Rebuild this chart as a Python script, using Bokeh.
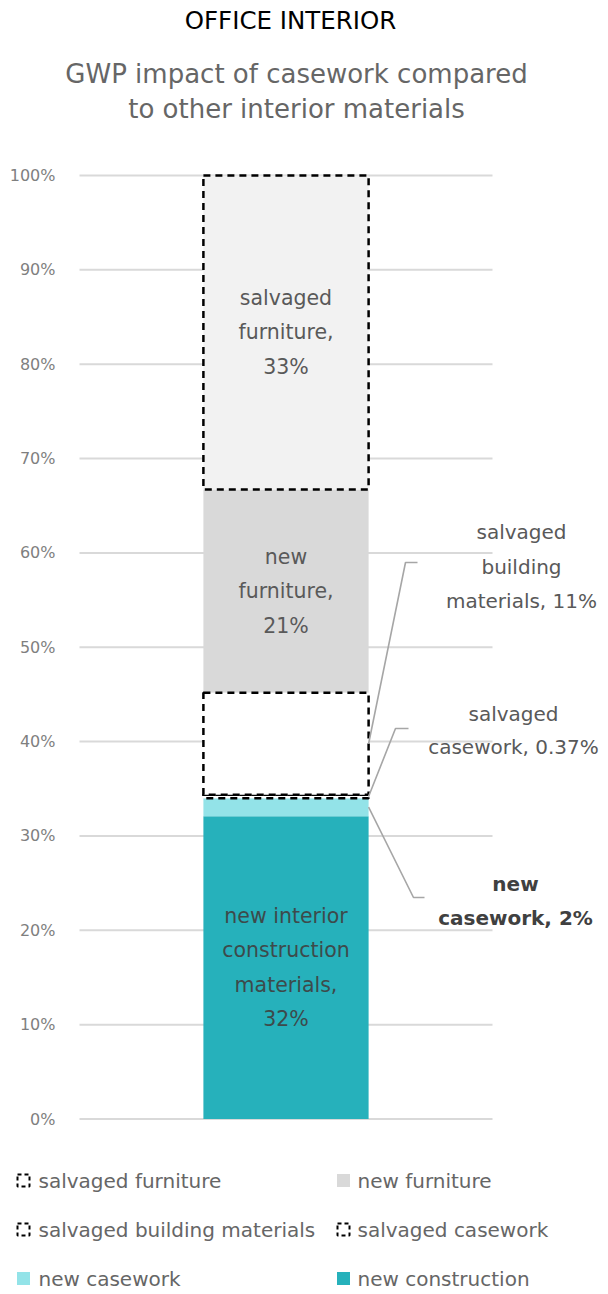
import numpy as np
from bokeh.plotting import figure
from bokeh.models import Range1d, ColumnDataSource
from bokeh.core.properties import value
from bokeh.embed import file_html
from bokeh.resources import INLINE

# ---------------- data ----------------
title = "OFFICE INTERIOR"
subtitle_lines = ["GWP impact of casework compared", "to other interior materials"]

categories = ["new construction", "new casework", "salvaged casework",
              "salvaged building materials", "new furniture", "salvaged furniture"]
values = [32.1, 1.9, 0.37, 10.8, 21.55, 33.28]          # % share, stacked bottom -> top
fills = ["#26b1bb", "#93e3e8", "#ffffff", "#ffffff", "#d9d9d9", "#f2f2f2"]
dashed = [False, False, True, True, False, True]

y_ticks = [0, 10, 20, 30, 40, 50, 60, 70, 80, 90, 100]
y_tick_labels = ["0%", "10%", "20%", "30%", "40%", "50%", "60%", "70%", "80%", "90%", "100%"]

# labels drawn inside the bar (line by line)
inbar_labels = {
    "salvaged furniture": ["salvaged", "furniture,", "33%"],
    "new furniture": ["new", "furniture,", "21%"],
    "new construction": ["new interior", "construction", "materials,", "32%"],
}
inbar_colors = {"salvaged furniture": "#595959", "new furniture": "#595959",
                "new construction": "#3d4a4b"}

# call-out labels to the right of the bar
callout_labels = {
    "salvaged building materials": ["salvaged", "building", "materials, 11%"],
    "salvaged casework": ["salvaged", "casework, 0.37%"],
    "new casework": ["new", "casework, 2%"],
}

legend_items = ["salvaged furniture", "new furniture",
                "salvaged building materials", "salvaged casework",
                "new casework", "new construction"]

# ---------------- layout / style (pixel positions of the page) ----------------
W, H = 608, 1290
FONT = "DejaVu Sans"
X0_PX, X_UNIT_PX = 79.0, 413.0        # where the grid starts, px per x unit
Y0_PX, Y_UNIT_PX = 1118.5, 9.435      # baseline (0%) and px per percent


def px2x(px):
    return (px - X0_PX) / X_UNIT_PX


def px2y(py):
    return (Y0_PX - py) / Y_UNIT_PX


BAR_X, BAR_W = 0.5, 0.4
LINE_STEP = 34.5 / Y_UNIT_PX          # in-bar line spacing

callout_layout = {
    "salvaged building materials": dict(elbow=(405, 562), end=417,
                                        tx=521, ty=[531, 566, 600], bold=False),
    "salvaged casework": dict(elbow=(395, 728), end=408,
                              tx=513, ty=[713, 746], bold=False),
    "new casework": dict(elbow=(413, 897), end=424,
                         tx=515, ty=[883, 917], bold=True),
}

p = figure(width=W, height=H,
           x_range=Range1d(px2x(0), px2x(W)),
           y_range=Range1d(px2y(H), px2y(0)),
           output_backend="svg", toolbar_location=None, tools="",
           x_axis_location=None, y_axis_location=None,
           min_border=0, outline_line_color=None)
p.grid.visible = False

# ---- title & subtitle ----
p.text(x=[px2x(290)], y=[px2y(20)], text=[title], text_align="center",
       text_baseline="middle", text_font=value(FONT), text_font_size="24.5px",
       text_color="#000000")
p.text(x=[px2x(296), px2x(296)], y=[px2y(73), px2y(108)], text=subtitle_lines,
       text_align="center", text_baseline="middle", text_font=value(FONT),
       text_font_size="26px", text_color="#666666")

# ---- value axis: grid lines + tick labels ----
p.segment(x0=[0] * len(y_ticks), x1=[1] * len(y_ticks), y0=y_ticks, y1=y_ticks,
          line_color="#d9d9d9", line_width=2)
p.text(x=[px2x(55)] * len(y_ticks), y=y_ticks, text=y_tick_labels, text_align="right",
       text_baseline="middle", text_font=value(FONT), text_font_size="16px",
       text_color="#7f7f7f")

# ---- stacked bar ----
vals = np.array(values)
tops = np.cumsum(vals)
bottoms = tops - vals

solid = [i for i in range(len(categories)) if not dashed[i]]
dash = [i for i in range(len(categories)) if dashed[i]]
src_solid = ColumnDataSource(dict(bottom=bottoms[solid], top=tops[solid],
                                  fill=[fills[i] for i in solid]))
src_dash = ColumnDataSource(dict(bottom=bottoms[dash], top=tops[dash],
                                 fill=[fills[i] for i in dash]))
p.vbar(x=BAR_X, width=BAR_W, bottom="bottom", top="top", fill_color="fill",
       line_color=None, source=src_solid)
p.vbar(x=BAR_X, width=BAR_W, bottom="bottom", top="top", fill_color="fill",
       line_color="#000000", line_width=2.5, line_dash="7 5", source=src_dash)

mids = {c: (b + t) / 2 for c, b, t in zip(categories, bottoms, tops)}

# in-bar labels, centred on the segment midpoint
for cat, lines in inbar_labels.items():
    n = len(lines)
    ys = [mids[cat] + (n - 1) / 2 * LINE_STEP - k * LINE_STEP for k in range(n)]
    p.text(x=[BAR_X] * n, y=ys, text=lines, text_align="center", text_baseline="middle",
           text_font=value(FONT), text_font_size="20.5px", text_color=inbar_colors[cat])

# call-outs with leader lines
for cat, lines in callout_labels.items():
    lay = callout_layout[cat]
    ex, ey = lay["elbow"]
    p.line(x=[BAR_X + BAR_W / 2, px2x(ex), px2x(lay["end"])],
           y=[mids[cat], px2y(ey), px2y(ey)],
           line_color="#a6a6a6", line_width=1.6)
    p.text(x=[px2x(lay["tx"])] * len(lines), y=[px2y(v) for v in lay["ty"]], text=lines,
           text_align="center", text_baseline="middle", text_font=value(FONT),
           text_font_size="20px",
           text_font_style="bold" if lay["bold"] else "normal",
           text_color="#404040" if lay["bold"] else "#595959")

# ---- legend (3 rows x 2 columns) ----
col_sw_px = [23, 343]
col_tx_px = [38, 357]
row_px = [1180, 1229, 1278]
for k, cat in enumerate(legend_items):
    i = categories.index(cat)
    r, c = divmod(k, 2)
    sx, sy = px2x(col_sw_px[c]), px2y(row_px[r])
    if dashed[i]:
        p.rect(x=[sx], y=[sy], width=12, height=12,
               width_units="screen", height_units="screen",
               fill_color="#ffffff", line_color="#000000", line_width=2, line_dash="4 3")
    else:
        p.rect(x=[sx], y=[sy], width=13, height=13,
               width_units="screen", height_units="screen",
               fill_color=fills[i], line_color=None)
    p.text(x=[px2x(col_tx_px[c])], y=[sy], text=[cat], text_align="left",
           text_baseline="middle", text_font=value(FONT), text_font_size="20px",
           text_color="#666666")

open("out.html", "w").write(file_html(p, INLINE))
